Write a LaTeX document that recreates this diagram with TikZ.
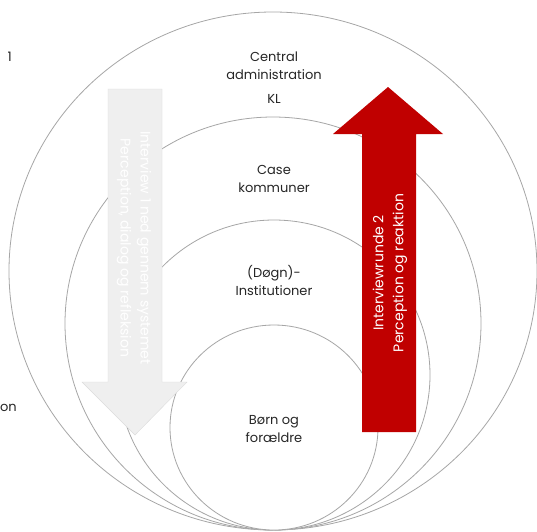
\documentclass[tikz,border=0pt]{standalone}
\usepackage{fontspec}
\setmainfont{Poppins}
\usepackage{tikz}
\usetikzlibrary{positioning}
\definecolor{RingGray}{HTML}{A6A6A6}
\definecolor{PaleGray}{HTML}{EFEFEF}
\definecolor{EdgeGray}{HTML}{DCDCDC}
\definecolor{DeepRed}{HTML}{C00000}
\definecolor{LabelInk}{HTML}{262626}

\begin{document}
\begin{tikzpicture}[
    x=1pt, y=-1pt,
    ring/.style={draw=RingGray, line width=0.8pt, fill=white},
    level/.style={align=center, text=LabelInk, inner sep=0pt,
                  font=\fontsize{13}{18}\selectfont},
    arrowtext/.style={align=center, text=white, inner sep=0pt,
                      font=\fontsize{14}{20}\selectfont}
]
    \useasboundingbox (0,0) rectangle (537,531);
    % rings, outer to inner
    \draw[ring] (273,271) ellipse [x radius=264, y radius=259];
    \draw[ring] (273,323.5) ellipse [x radius=208, y radius=206.5];
    \draw[ring] (274,375) ellipse [x radius=156, y radius=155];
    \draw[ring] (274,427.5) ellipse [x radius=104, y radius=102.5];
    % interview arrows
    \filldraw[fill=PaleGray, draw=EdgeGray] (108,89) -- (162,89) -- (162,382) -- (187,382)
        -- (135,435) -- (82,382) -- (108,382) -- cycle;
    \fill[DeepRed] (362,432) -- (362,134) -- (333,134) -- (388,87) -- (443,134)
        -- (416,134) -- (416,432) -- cycle;
    \node[arrowtext, rotate=-90] (down) at (134,248)
        {Interview 1 ned gennem systemet\\Perception, dialog og refleksion};
    \node[arrowtext, rotate=90] (up) at (390,273)
        {Interviewrunde 2\\Perception og reaktion};
    % levels
    \node[level] (central) at (274,66) {Central\\administration};
    \node[level, below=14pt of central] (kl) {KL};
    \node[level] (case) at (274,179) {Case\\kommuner};
    \node[level] (inst) at (274,280) {(Døgn)-\\Institutioner};
    \node[level] (born) at (274,429) {Børn og\\forældre};
    % cut-off side labels
    \node[level, anchor=east] (side1) at (12,57) {1};
    \node[level, anchor=east] (side2) at (17,408) {on};
\end{tikzpicture}
\end{document}
